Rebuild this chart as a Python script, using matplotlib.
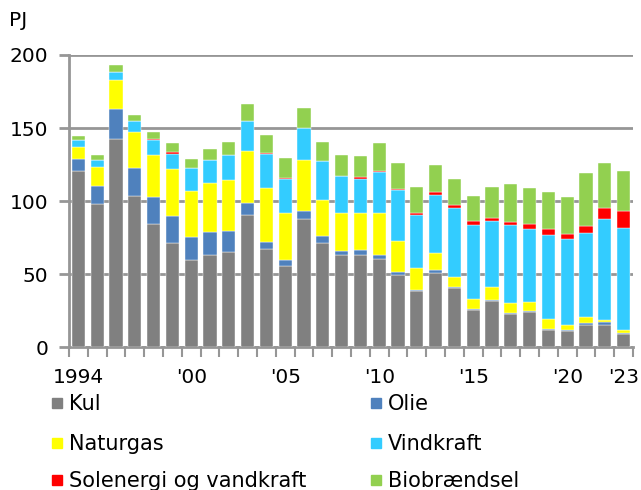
import numpy as np
import matplotlib
matplotlib.use("Agg")
import matplotlib.pyplot as plt
from matplotlib.patches import Rectangle

""" Data (PJ) """
years = list(range(1994, 2024))
kul = [120.3, 98.2, 142.6, 103.7, 84.5, 71.5, 59.9, 63.3, 65.4, 90.7,
       67.0, 55.4, 88.0, 71.5, 62.7, 63.3, 60.6, 49.2, 38.5, 51.0,
       40.3, 25.1, 31.7, 22.3, 23.9, 11.6, 10.7, 15.3, 15.3, 8.9]
olie = [8.2, 12.3, 20.5, 18.9, 18.0, 18.2, 15.3, 15.5, 14.1, 7.9,
        5.2, 4.3, 5.0, 4.6, 3.1, 3.2, 2.5, 2.1, 0.5, 1.6,
        0.7, 0.9, 0.7, 0.7, 0.7, 0.7, 0.9, 0.9, 1.6, 0.9]
naturgas = [8.4, 12.8, 20.1, 24.6, 29.0, 32.0, 31.9, 33.5, 34.9, 35.6,
            37.0, 31.9, 35.0, 24.6, 25.8, 25.1, 28.5, 21.2, 15.2, 11.7,
            6.8, 6.6, 8.4, 6.9, 6.2, 6.6, 3.4, 4.3, 1.8, 1.8]
vindkraft = [5.1, 4.7, 5.0, 7.3, 10.2, 10.7, 15.7, 16.0, 17.1, 20.3,
             23.2, 23.4, 21.9, 26.4, 25.5, 23.4, 28.5, 35.3, 36.5, 39.8,
             47.4, 50.8, 45.3, 53.5, 49.9, 57.9, 59.3, 57.4, 69.0, 69.7]
sol_vand = [0.1, 0.1, 0.1, 0.1, 0.7, 0.9, 0.1, 0.1, 0.2, 0.2,
            0.2, 0.7, 0.2, 0.2, 0.2, 1.2, 0.3, 0.3, 0.9, 1.8,
            1.8, 2.7, 2.5, 2.5, 3.6, 3.7, 3.4, 5.0, 7.3, 11.9]
biobraendsel = [2.1, 3.5, 4.6, 4.5, 4.6, 6.3, 6.2, 7.0, 8.9, 11.4,
                12.5, 14.0, 13.3, 13.0, 14.4, 14.6, 19.2, 18.1, 18.2, 18.5,
                18.0, 17.1, 21.0, 25.5, 24.4, 25.4, 24.8, 36.0, 31.2, 27.3]

series = [
    ("Kul", kul, "#808080"),
    ("Olie", olie, "#4F81BD"),
    ("Naturgas", naturgas, "#FFFF00"),
    ("Vindkraft", vindkraft, "#33CCFF"),
    ("Solenergi og vandkraft", sol_vand, "#FF0000"),
    ("Biobrændsel", biobraendsel, "#92D050"),
]

label_years = [1994, 2000, 2005, 2010, 2015, 2020, 2023]
label_texts = ["1994", "'00", "'05", "'10", "'15", "'20", "'23"]

plt.rcParams['font.family'] = ['DejaVu Sans']
FS = 14.5
GRID = "#969696"
W, H = 641, 490

fig = plt.figure(figsize=(W / 100, H / 100), dpi=100)
ax = fig.add_axes([69 / W, 1 - 347 / H, 564 / W, 292 / H])

x = np.arange(len(years))
bottom = np.zeros(len(years))
for name, vals, col in series:
    ax.bar(x, vals, bottom=bottom, width=0.71, color=col,
           edgecolor="white", linewidth=0.3, zorder=3)
    bottom += np.array(vals)

ax.set_xlim(-0.5, len(years) - 0.5)
ax.set_ylim(0, 200)
ax.set_yticks([0, 50, 100, 150, 200])
ax.yaxis.grid(True, color=GRID, linewidth=2, zorder=0)
ax.tick_params(axis="y", length=7, width=2, color=GRID, labelsize=FS, pad=8)

# year labels under their bars, tick marks between categories
ax.set_xticks([years.index(y) for y in label_years], label_texts)
ax.set_xticks(np.arange(len(years) + 1) - 0.5, minor=True)
ax.tick_params(axis="x", which="major", length=0, labelsize=FS, pad=15)
ax.tick_params(axis="x", which="minor", length=7, width=1.5, color=GRID)

for s in ["top", "right"]:
    ax.spines[s].set_visible(False)
for s in ["left", "bottom"]:
    ax.spines[s].set_color(GRID)
    ax.spines[s].set_linewidth(2)

fig.text(9 / W, 1 - 21 / H, "PJ", fontsize=FS, va="center", ha="left")

# legend, 2 columns
col_x = [52, 371]
row_y = [403, 443, 480]
for i, (name, vals, col) in enumerate(series):
    px = col_x[i % 2]
    py = row_y[i // 2]
    fig.patches.append(Rectangle((px / W, 1 - (py + 5) / H), 10 / W, 10 / H,
                                 transform=fig.transFigure, color=col))
    fig.text((px + 17) / W, 1 - (py + 1) / H, name, fontsize=15, va="center", ha="left")

fig.savefig("out.png", dpi=100)
